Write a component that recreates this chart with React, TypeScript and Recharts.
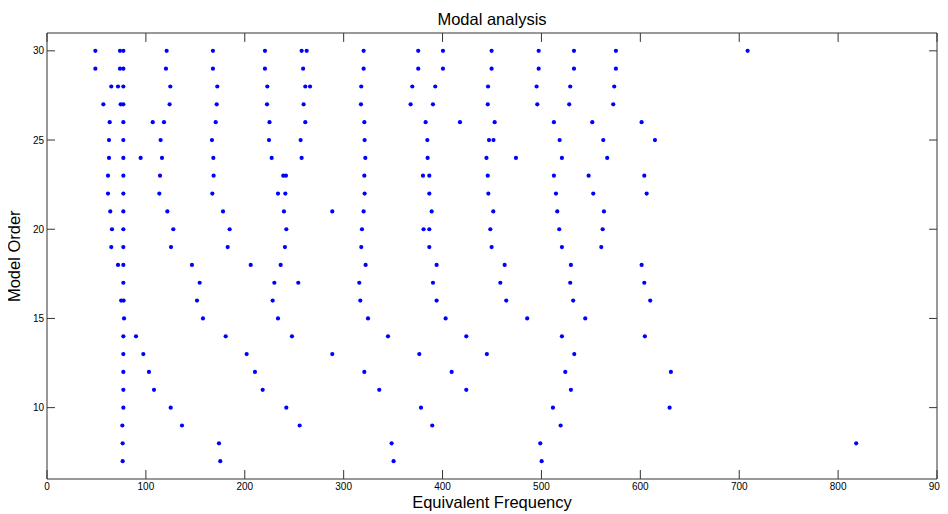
import React from 'react';
import { ScatterChart, Scatter, XAxis, YAxis, ReferenceLine } from 'recharts';

const freqTicks = [0, 100, 200, 300, 400, 500, 600, 700, 800, 900];
const orderTicks = [10, 15, 20, 25, 30];
const freqDomain: [number, number] = [0, 900];
const orderDomain: [number, number] = [6, 31];

const f30 = [48.9, 73.8, 77.2, 121, 167.8, 220.4, 257.5, 262.6, 320.2, 375.4, 400.4, 449.6, 497.2, 532.9, 575.3, 708.5];
const f29 = [48.9, 73.8, 77.2, 120.3, 167.8, 220.4, 259, 320.2, 375.4, 400.4, 449.6, 497.2, 532.9, 575.3];
const f28 = [65, 71.8, 77.2, 124.7, 172.2, 222.8, 261.2, 266, 317.8, 369.4, 392.6, 446, 495.1, 529.1, 573.6];
const f27 = [57, 74.5, 77.2, 124, 171.6, 222.5, 259.5, 317.5, 367.7, 390.3, 445.7, 495.8, 528.1, 572.6];
const f26 = [63.4, 77.2, 106.9, 118.3, 170.6, 225, 261.2, 320.9, 382.9, 417.6, 452.7, 512.6, 551.4, 601.3];
const f25 = [62.7, 77.2, 114.9, 166.8, 224.5, 256.5, 321.2, 384.6, 447, 451.5, 518.4, 562.5, 614.8];
const f24 = [62.7, 77.2, 94.7, 116.3, 168.2, 227.2, 257.5, 321.9, 384.9, 444.4, 474.2, 520.7, 566.5];
const f23 = [61.7, 77.2, 114.3, 168.5, 238.9, 241.6, 320.9, 380.2, 386.6, 445.7, 512.6, 547.7, 604];
const f22 = [61.7, 77.2, 113.6, 167.2, 233.6, 241, 321.2, 386.6, 446.3, 514.7, 552.4, 606.4];
const f21 = [64, 77.2, 121.7, 178, 239.6, 288.5, 320.2, 389, 451.3, 516, 563.2];
const f20 = [65.7, 77.2, 127.7, 184.7, 242, 318.5, 380.8, 386.6, 448.3, 518, 561.9];
const f19 = [65, 77.2, 125.4, 182.7, 240.6, 317.8, 386.6, 449.6, 520.7, 560.5];
const f18 = [71.8, 77.2, 146.6, 206, 236.3, 322.2, 394, 462.8, 529.8, 601.3];
const f17 = [77.2, 154.4, 229.9, 254.1, 315.8, 390.3, 458.4, 529.1, 604];
const f16 = [75, 77.5, 151.7, 228.2, 316.8, 394, 464.4, 532.1, 610];
const f15 = [77.9, 157.7, 233.6, 324.6, 403.1, 485.6, 544.3];
const f14 = [77.2, 90, 180.7, 247.7, 344.8, 424, 520.7, 604.6];
const f13 = [77.2, 97.4, 201.9, 288.5, 376.5, 444.8, 533.2];
const f12 = [77.2, 103.1, 210.3, 320.9, 409.2, 524.1, 630.9];
const f11 = [77.2, 108.2, 218.1, 336, 424, 529.8];
const f10 = [77.2, 125.1, 242, 378.2, 511.6, 629.6];
const f9 = [76.2, 136.5, 255.5, 389.6, 519.4];
const f8 = [76.5, 173.9, 348.5, 498.8, 818.3];
const f7 = [76.5, 175.2, 350.5, 500.2];

const poleRows: [number, number[]][] = [
  [30, f30], [29, f29], [28, f28], [27, f27], [26, f26], [25, f25], [24, f24], [23, f23],
  [22, f22], [21, f21], [20, f20], [19, f19], [18, f18], [17, f17], [16, f16], [15, f15],
  [14, f14], [13, f13], [12, f12], [11, f11], [10, f10], [9, f9], [8, f8], [7, f7],
];

const poles = poleRows.flatMap(([order, fs]) => fs.map((freq) => ({ freq, order })));

const FONT = '"Liberation Sans", Arial, Helvetica, sans-serif';
const AXIS = '#333';
// inward tick lengths for the mirrored (top / right) box edges, in data units
const TOP_TICK_LEN = 0.5;
const RIGHT_TICK_LEN = 8;

const Dot = (props: any) => {
  if (props.cx == null || props.cy == null) return null;
  return <circle cx={props.cx} cy={props.cy} r={2.1} fill="#0000ff" />;
};

export default function App() {
  const xMax = freqDomain[1];
  const yMax = orderDomain[1];
  return (
    <div style={{ position: 'relative', width: 940, height: 506, fontFamily: FONT }}>
      <div
        style={{
          position: 'absolute', left: 39, top: 3, width: 890, textAlign: 'center',
          fontSize: 16.5, lineHeight: '16.5px', color: '#000', whiteSpace: 'nowrap',
        }}
      >
        Modal analysis
      </div>
      <ScatterChart width={940} height={506} margin={{ top: 25, right: 11, bottom: 0, left: 0 }}>
        <XAxis
          type="number"
          dataKey="freq"
          domain={freqDomain}
          ticks={freqTicks}
          height={35}
          tickSize={-9}
          tickMargin={13}
          stroke={AXIS}
          tick={{ fontSize: 10, fill: '#000', fontFamily: FONT }}
        />
        <YAxis
          type="number"
          dataKey="order"
          domain={orderDomain}
          ticks={orderTicks}
          width={39}
          tickSize={-8}
          tickMargin={11}
          stroke={AXIS}
          tick={{ fontSize: 10, fill: '#000', fontFamily: FONT }}
        />
        <ReferenceLine y={yMax} stroke={AXIS} ifOverflow="visible" />
        <ReferenceLine x={xMax} stroke={AXIS} ifOverflow="visible" />
        {freqTicks.map((t) => (
          <ReferenceLine
            key={`tt${t}`}
            segment={[{ x: t, y: yMax }, { x: t, y: yMax - TOP_TICK_LEN }]}
            stroke={AXIS}
            ifOverflow="visible"
          />
        ))}
        {orderTicks.map((t) => (
          <ReferenceLine
            key={`rt${t}`}
            segment={[{ x: xMax, y: t }, { x: xMax - RIGHT_TICK_LEN, y: t }]}
            stroke={AXIS}
            ifOverflow="visible"
          />
        ))}
        <Scatter data={poles} shape={Dot} isAnimationActive={false} />
      </ScatterChart>
      <div
        style={{
          position: 'absolute', left: 39, top: 486, width: 890, textAlign: 'center',
          fontSize: 16.5, lineHeight: '16.5px', color: '#000', whiteSpace: 'nowrap',
        }}
      >
        Equivalent Frequency
      </div>
      <div
        style={{
          position: 'absolute', left: -94, top: 240.25, width: 200, height: 16.5, textAlign: 'center',
          fontSize: 16.5, lineHeight: '16.5px', color: '#000', whiteSpace: 'nowrap',
          transform: 'rotate(-90deg)', transformOrigin: '50% 50%', zIndex: 2,
        }}
      >
        Model Order
      </div>
    </div>
  );
}
